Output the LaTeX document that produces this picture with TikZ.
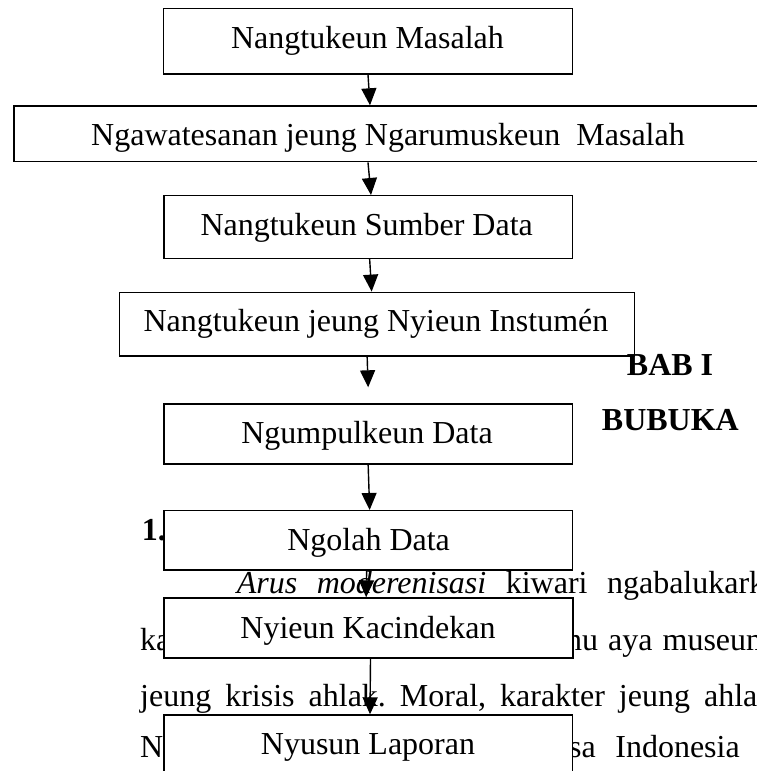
\documentclass[tikz,border=0pt]{standalone}
\usepackage{fontspec}
\setmainfont{Liberation Serif}
\usetikzlibrary{arrows.meta,calc}
\begin{document}
\begin{tikzpicture}[x=1pt,y=-1pt,
  box/.style={draw=black, fill=white, line width=1.4pt, inner sep=0pt, rectangle},
  lbl/.style={anchor=base, inner sep=0pt, font=\fontsize{32}{38}\selectfont},
  bg/.style={anchor=base west, inner sep=0pt, font=\fontsize{32}{38}\selectfont},
  hd/.style={anchor=base west, inner sep=0pt, font=\fontsize{32}{38}\selectfont\bfseries},
  arr/.style={line width=1.4pt, -{Triangle[length=17pt,width=15pt]}}]
\useasboundingbox (0,0) rectangle (757,771);
\clip (0,0) rectangle (757,771);
\fill[white] (0,0) rectangle (757,771);

% background page text
\node[bg] (t1) at (236.7,593) {\spaceskip=19.5pt\relax\textit{Arus moderenisasi} kiwari ngabalukark};
\node[bg] (t2a) at (140,650) {ka};
\node[bg] (t2b) at (566,650) {\spaceskip=10pt\relax nu aya museum};
\node[bg] (t3) at (140,706) {\spaceskip=14pt\xspaceskip=14pt\relax jeung krisis ahlak. Moral, karakter jeung ahla};
\node[bg] (t4a) at (140,757) {N};
\node[bg] (t4b) at (569,757) {\spaceskip=19.5pt\relax sa Indonesia};

% boxes
\node[box, minimum width=409.4pt, minimum height=65.7pt] (b1) at (368,41.15) {};
\node[box, minimum width=756pt, minimum height=55.7pt] (b2) at (392,133.85) {};
\node[box, minimum width=408.3pt, minimum height=62.6pt] (b3) at (368.15,227) {};
\node[box, minimum width=515pt, minimum height=63.7pt] (b4) at (376.8,324.15) {};
\node[box, minimum width=408.3pt, minimum height=60pt] (b5) at (368.15,434) {};
\node[box, minimum width=408.5pt, minimum height=59.3pt] (b6) at (368.25,540.35) {};
\node[box, minimum width=409pt, minimum height=60pt] (b7) at (368.5,628) {};
\node[box, minimum width=408.5pt, minimum height=85pt] (b8) at (368.25,757.5) {};

% box texts
\node[lbl] (l1) at (367.5,48) {Nangtukeun Masalah};
\node[lbl] (l2) at (388,145) {Ngawatesanan jeung Ngarumuskeun~~Masalah};
\node[lbl] (l3) at (366.7,235) {Nangtukeun Sumber Data};
\node[lbl] (l4) at (376,331.7) {Nangtukeun jeung Nyieun Instumén};
\node[lbl] (l5) at (367,443) {Ngumpulkeun Data};
\node[lbl] (l6) at (368.6,550) {Ngolah Data};
\node[lbl] (l7) at (368,638) {Nyieun Kacindekan};
\node[lbl] (l8) at (368,754) {Nyusun Laporan};

% arrows
\draw[arr] (b1.south) -- ($(b1.south|-b2.north)+(2,0)$);
\draw[arr] (b1.south|-b2.south) -- ($(b1.south|-b3.north)+(3,0)$);
\draw[arr] ($(b3.south)+(1.5,0)$) -- ($(b3.south|-b4.north)+(3.5,0)$);
\draw[arr] ($(b3.south|-b4.south)+(-1,0)$) -- ($(b3.south|-b5.north)+(0,-16)$);
\draw[arr] (b5.south) -- ($(b5.south|-b6.north)+(1.5,0)$);
\draw[arr] ($(b5.south|-b6.south)+(-1.5,0)$) -- ($(b5.south|-b7.north)+(-2,0)$);
\draw[arr] ($(b7.south)+(2,0)$) -- ($(b7.south|-b8.north)+(1.5,0)$);

% headings
\node[hd] (h1) at (626.7,375) {BAB I};
\node[hd] (h2) at (601.7,430) {BUBUKA};
\node[hd] (h3) at (141.7,540.7) {1.};
\end{tikzpicture}
\end{document}
